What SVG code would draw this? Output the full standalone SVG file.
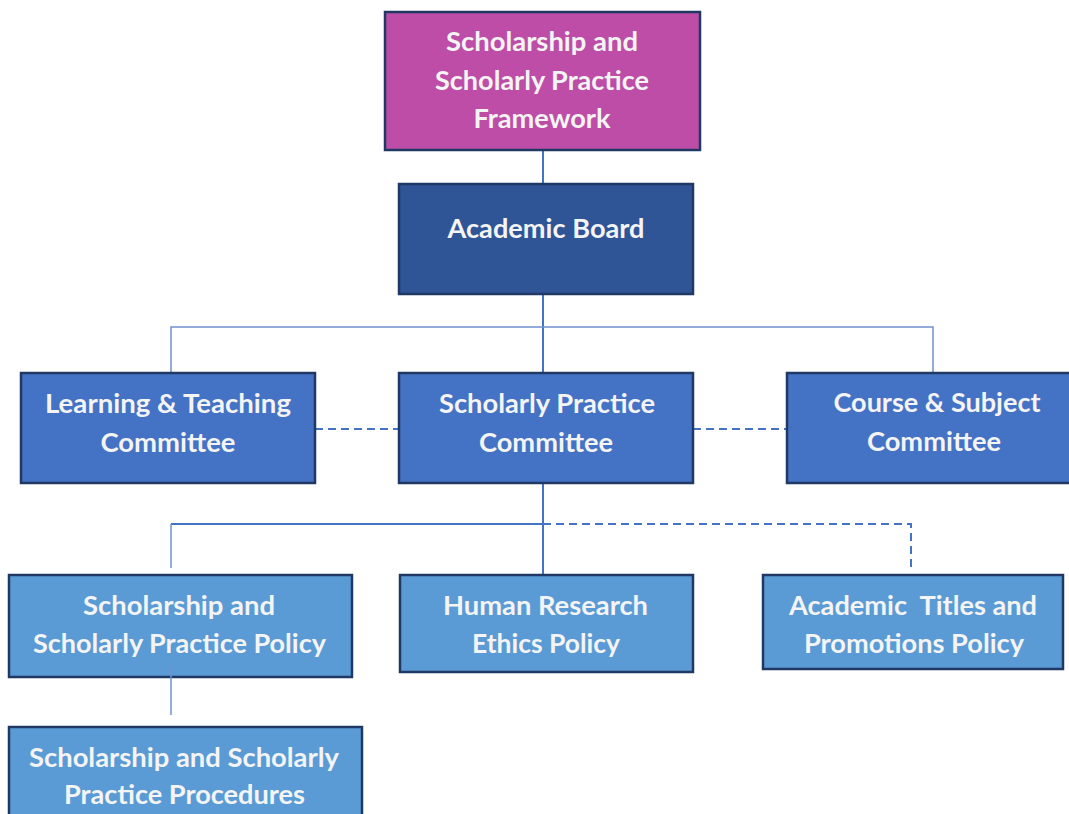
<svg xmlns="http://www.w3.org/2000/svg" width="1069" height="814" viewBox="0 0 1069 814">
  <style>
    .box { stroke: #1F3864; stroke-width: 2.5; }
    .framework { fill: #BD4DA7; }
    .board { fill: #2F5597; }
    .committee { fill: #4472C4; }
    .policy { fill: #5B9BD5; }
    .label { font-family: Lato, "Open Sans", "Liberation Sans", sans-serif; font-weight: 700; font-size: 26px; fill: #F4F4F4; text-anchor: middle; }
    .link { fill: none; stroke: #4472C4; stroke-width: 2; }
    .thin { fill: none; stroke: #6F90D0; stroke-width: 1.5; }
    .dash { fill: none; stroke: #4472C4; stroke-width: 2; stroke-dasharray: 8 5; }
  </style>
  <rect width="1069" height="814" fill="#FFFFFF"/>

  <!-- connectors -->
  <g id="connectors">
    <line class="link" x1="543" y1="150" x2="543" y2="184"/>
    <line class="link" x1="543" y1="294" x2="543" y2="373"/>
    <polyline class="thin" points="171,373 171,327 933,327 933,373"/>
    <line class="dash" x1="315" y1="429" x2="399" y2="429"/>
    <line class="dash" x1="693" y1="429" x2="787" y2="429"/>
    <line class="link" x1="543" y1="483" x2="543" y2="575"/>
    <line class="link" x1="171" y1="524" x2="543" y2="524"/>
    <line class="thin" x1="171" y1="524" x2="171" y2="568"/>
    <polyline class="dash" points="543,524 911,524 911,568"/>
  </g>

  <g id="framework">
    <rect class="box framework" x="385" y="12" width="315" height="138"/>
    <text class="label" x="542" y="51" textLength="192" lengthAdjust="spacingAndGlyphs">Scholarship and</text>
    <text class="label" x="542" y="90" textLength="214" lengthAdjust="spacingAndGlyphs">Scholarly Practice</text>
    <text class="label" x="542" y="128" textLength="137" lengthAdjust="spacingAndGlyphs">Framework</text>
  </g>

  <g id="academic-board">
    <rect class="box board" x="399" y="184" width="294" height="110"/>
    <text class="label" x="546" y="238" textLength="197" lengthAdjust="spacingAndGlyphs">Academic Board</text>
  </g>

  <g id="learning-teaching">
    <rect class="box committee" x="21" y="373" width="294" height="110"/>
    <text class="label" x="168" y="413" textLength="246" lengthAdjust="spacingAndGlyphs">Learning &amp; Teaching</text>
    <text class="label" x="168" y="452" textLength="135" lengthAdjust="spacingAndGlyphs">Committee</text>
  </g>

  <g id="scholarly-practice-committee">
    <rect class="box committee" x="399" y="373" width="294" height="110"/>
    <text class="label" x="547" y="413" textLength="216" lengthAdjust="spacingAndGlyphs">Scholarly Practice</text>
    <text class="label" x="546" y="452" textLength="134" lengthAdjust="spacingAndGlyphs">Committee</text>
  </g>

  <g id="course-subject">
    <rect class="box committee" x="787" y="373" width="294" height="110"/>
    <text class="label" x="937" y="412" textLength="207" lengthAdjust="spacingAndGlyphs">Course &amp; Subject</text>
    <text class="label" x="934" y="451" textLength="134" lengthAdjust="spacingAndGlyphs">Committee</text>
  </g>

  <g id="policy-ssp">
    <rect class="box policy" x="9" y="575" width="343" height="102"/>
    <text class="label" x="179" y="615" textLength="192" lengthAdjust="spacingAndGlyphs">Scholarship and</text>
    <text class="label" x="179.5" y="653" textLength="293" lengthAdjust="spacingAndGlyphs">Scholarly Practice Policy</text>
  </g>

  <g id="policy-ethics">
    <rect class="box policy" x="400" y="575" width="293" height="97"/>
    <text class="label" x="545.5" y="615" textLength="205" lengthAdjust="spacingAndGlyphs">Human Research</text>
    <text class="label" x="546" y="653" textLength="148" lengthAdjust="spacingAndGlyphs">Ethics Policy</text>
  </g>

  <g id="policy-titles">
    <rect class="box policy" x="763" y="575" width="300" height="94"/>
    <text class="label" x="913" y="615" textLength="248" lengthAdjust="spacingAndGlyphs" xml:space="preserve">Academic  Titles and</text>
    <text class="label" x="914" y="653" textLength="220" lengthAdjust="spacingAndGlyphs">Promotions Policy</text>
  </g>

  <g id="procedures">
    <rect class="box policy" x="9" y="727" width="353" height="100"/>
    <text class="label" x="184" y="767" textLength="310" lengthAdjust="spacingAndGlyphs">Scholarship and Scholarly</text>
    <text class="label" x="184.5" y="804" textLength="241" lengthAdjust="spacingAndGlyphs">Practice Procedures</text>
  </g>

  <!-- link from policy to procedures drawn above the policy box -->
  <g id="connectors-top">
    <line class="thin" x1="171" y1="667" x2="171" y2="715"/>
  </g>
</svg>
